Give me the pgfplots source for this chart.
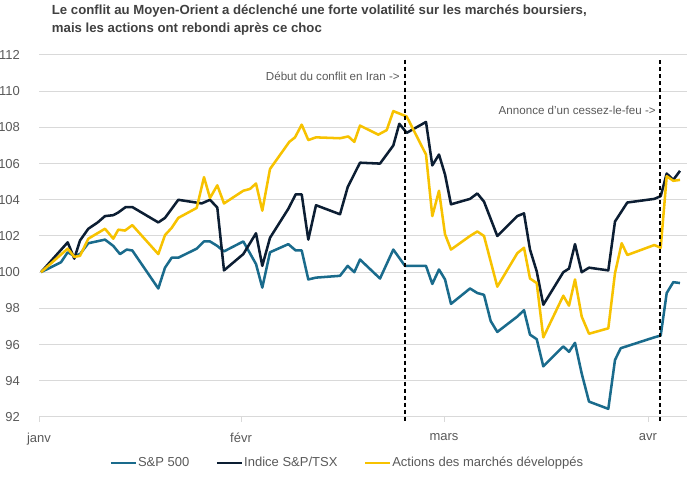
\documentclass[border=0pt]{standalone}
\usepackage{fontspec}
\setmainfont{Liberation Sans}
\usepackage{pgfplots}
\pgfplotsset{compat=1.18}
\definecolor{spteal}{HTML}{1A6B8C}
\definecolor{tsxnavy}{HTML}{0C1E33}
\definecolor{devgold}{HTML}{F7C200}
\definecolor{gridgray}{HTML}{D9D9D9}
\definecolor{txtgray}{HTML}{595959}
\definecolor{titlegray}{HTML}{404040}
\begin{document}
\begin{tikzpicture}
\begin{axis}[
  scale only axis, width=486pt, height=271.5pt,
  xmin=39, xmax=687, ymin=92, ymax=112,
  axis line style={draw=none},
  ymajorgrids, grid style={gridgray, line width=0.75pt},
  ytick={92,94,...,112}, ytick style={draw=none},
  xtick={39,241,444,648}, xticklabels={janv,févr,mars,avr},
  xtick pos=bottom, tick align=outside, major tick length=3.75pt,
  xtick style={gridgray, line width=0.75pt},
  tick label style={font=\fontsize{9.75}{11}\selectfont, text=txtgray},
  /pgf/number format/assume math mode=true,
  yticklabel shift=7pt, xticklabel shift=5pt,
  clip=false,
  legend style={at={(0.475,-0.127)}, anchor=center, draw=none, fill=none,
    font=\fontsize{9.75}{11}\selectfont, text=txtgray,
    /tikz/every even column/.append style={column sep=19pt},
    nodes={inner sep=0.75pt}},
  legend columns=3, legend cell align=left,
  legend image code/.code={\draw[#1] (0pt,0pt) -- (18.75pt,0pt);},
  every axis plot/.append style={line width=1.9pt, line join=round, mark=none},
]
\addplot[spteal] coordinates {
(41,100) (61,100.55) (67.7,101.1) (74.3,100.9) (80,101.0) (88.3,101.6) (105,101.8)
(113.3,101.45) (120,101.0) (126.7,101.25) (132.3,101.2) (158.3,99.1) (165,100.25)
(171.7,100.8) (178.3,100.8) (196.7,101.3) (204,101.7) (210,101.7) (217.3,101.45)
(224,101.15) (243.3,101.7) (256,100.45) (262.3,99.15) (270,101.1) (288.3,101.55)
(295.7,101.2) (301.7,101.2) (308.3,99.6) (316,99.7) (340,99.8) (347.7,100.35)
(354.3,100.0) (360,100.7) (380,99.65) (393.3,101.25) (405,100.35) (426,100.35)
(432.3,99.35) (439,100.15) (445,99.6) (451,98.25) (470,99.1) (477.3,98.85)
(484,98.75) (490.7,97.3) (497.3,96.7) (517.3,97.55) (524,97.9) (530,96.55)
(536.7,96.3) (543.3,94.8) (563.3,95.9) (569,95.6) (575,96.1) (581.7,94.4)
(589,92.85) (608.3,92.45) (615,95.15) (620.7,95.8) (654.3,96.4) (660.7,96.5)
(666.7,98.85) (673.3,99.45) (680,99.4)
};
\addlegendentry{S\&P 500}
\addplot[tsxnavy] coordinates {
(41,100) (67.7,101.65) (74.3,100.75) (80,101.75) (88.3,102.4) (97.7,102.75)
(105,103.1) (113.3,103.15) (118.3,103.3) (125.7,103.6) (132.3,103.6) (158.3,102.75)
(165,103.0) (178.3,104.0) (201.7,103.8) (210,104.0) (217.3,103.57) (224,100.1)
(243.3,101.0) (256,102.15) (262.3,100.35) (270,101.9) (288.3,103.5) (295.7,104.3)
(301.7,104.3) (308.3,101.8) (316,103.7) (340,103.2) (347.7,104.7) (360,106.05)
(380,106.0) (393.3,107.0) (399.3,108.2) (406.7,107.7) (426,108.3) (432.3,105.9)
(439,106.5) (445,105.4) (451,103.75) (470,104.05) (477.3,104.35) (484,103.9)
(497.3,102.0) (517.3,103.1) (524,103.25) (530,101.25) (536.7,100.05) (543.3,98.2)
(563.3,100.0) (569,100.2) (575,101.55) (581.7,100.0) (589,100.25) (608.3,100.1)
(615,102.8) (627.3,103.85) (654.3,104.05) (660.7,104.2) (666.7,105.45)
(673.3,105.1) (680,105.6)
};
\addlegendentry{Indice S\&P/TSX}
\addplot[devgold] coordinates {
(41,100) (67.7,101.3) (74.3,100.85) (80,100.9) (88.3,101.85) (105,102.4)
(113.3,101.85) (118.3,102.35) (125,102.3) (132.3,102.6) (158.3,101.0) (165,102.05)
(171.7,102.45) (178.3,103.0) (196.7,103.55) (204,105.25) (210,104.1) (217.3,104.8)
(224,103.8) (243.3,104.5) (250,104.6) (256,104.9) (262.3,103.4) (270,105.7)
(289.3,107.2) (295,107.45) (301.7,108.15) (308.3,107.3) (316,107.45) (340,107.4)
(348.3,107.5) (354.3,107.2) (360,108.1) (378.3,107.6) (386.7,107.85) (393.3,108.9)
(400,108.75) (406.7,108.6) (426,106.5) (432.3,103.1) (439,104.5) (445,102.1)
(451,101.25) (470,102.0) (477.3,102.25) (484,102.0) (497.3,99.2) (517.3,101.05)
(524,101.35) (530,99.65) (536.7,99.4) (543.3,96.4) (563.3,98.7) (569,98.15)
(575,99.6) (581.7,97.55) (589,96.6) (608.3,96.9) (615,99.95) (621.7,101.6)
(627.3,100.95) (654.3,101.5) (660.7,101.35) (666.7,105.3) (673.3,105.05) (680,105.1)
};
\addlegendentry{Actions des marchés développés}
\draw[black, line width=1.1pt, dash pattern=on 3pt off 2.25pt] (axis cs:405,111.75) -- (axis cs:405,91.8);
\draw[black, line width=1.1pt, dash pattern=on 3pt off 2.25pt] (axis cs:660,111.7) -- (axis cs:660,91.8);
\node[anchor=east, inner sep=0pt, text=txtgray, font=\fontsize{8.7}{10}\selectfont] at (axis cs:400,110.84) {Début du conflit en Iran ->};
\node[anchor=east, inner sep=0pt, text=txtgray, font=\fontsize{8.7}{10}\selectfont] at (axis cs:656,108.96) {Annonce d’un cessez-le-feu ->};
\end{axis}
\node[anchor=base west, inner sep=0pt, text=titlegray, font=\bfseries\fontsize{9.9}{11}\selectfont] at ([xshift=9.5pt,yshift=30pt]current axis.north west) {Le conflit au Moyen-Orient a déclenché une forte volatilité sur les marchés boursiers,};
\node[anchor=base west, inner sep=0pt, text=titlegray, font=\bfseries\fontsize{9.9}{11}\selectfont] at ([xshift=9.5pt,yshift=16.5pt]current axis.north west) {mais les actions ont rebondi après ce choc};
\pgfresetboundingbox
\path[use as bounding box] ([xshift=-29.25pt,yshift=-45.75pt]current axis.south west) rectangle ++(516.75pt,358.5pt);
\end{tikzpicture}
\end{document}
